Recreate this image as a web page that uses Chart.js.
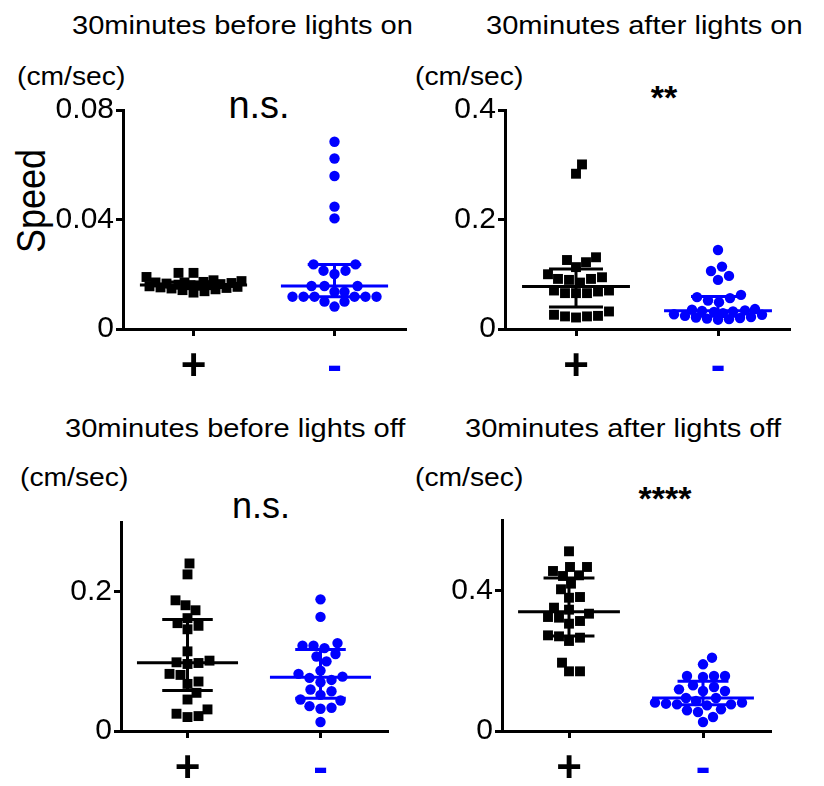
<!DOCTYPE html>
<html>
<head>
<meta charset="utf-8">
<script src="https://cdn.jsdelivr.net/npm/chart.js@4.4.1/dist/chart.umd.min.js"></script>
<style>
  html, body { margin: 0; padding: 0; background: #fff; }
  body { width: 824px; height: 786px; position: relative; overflow: hidden;
         font-family: "Liberation Sans", Arial, sans-serif; color: #000; }
  .box { position: absolute; }
  .txt { position: absolute; white-space: nowrap; line-height: 1; transform-origin: left top; }
  .title { font-size: 26px; transform: scaleX(1.118); }
  .unit { font-size: 25px; transform: scaleX(1.13); }
  .sig { transform: translateX(-50%); }
</style>
</head>
<body>

<div class="txt title" style="left:72px; top:12px;">30minutes before lights on</div>
<div class="txt title" style="left:486px; top:12px;">30minutes after lights on</div>
<div class="txt title" style="left:65px; top:415px;">30minutes before lights off</div>
<div class="txt title" style="left:465px; top:415px;">30minutes after lights off</div>

<div class="txt unit" style="left:17px; top:64px;">(cm/sec)</div>
<div class="txt unit" style="left:415px; top:64px;">(cm/sec)</div>
<div class="txt unit" style="left:20px; top:465px;">(cm/sec)</div>
<div class="txt unit" style="left:415px; top:465px;">(cm/sec)</div>

<div class="txt sig" id="sig0" style="left:259px; top:86px; font-size:38px;"></div>
<div class="txt sig" id="sig1" style="left:664px; top:80px; font-size:34px; font-weight:bold;"></div>
<div class="txt sig" id="sig2" style="left:261px; top:488px; font-size:36px;"></div>
<div class="txt sig" id="sig3" style="left:665px; top:481px; font-size:34px; font-weight:bold;"></div>

<div class="txt" style="left:31px; top:201px; font-size:36px; transform-origin:center; transform: translate(-50%,-50%) rotate(-90deg) scaleY(1.15);">Speed</div>

<div class="box" style="left:0px; top:90px;"><canvas id="c0" width="412" height="300"></canvas></div>
<div class="box" style="left:390px; top:90px;"><canvas id="c1" width="406" height="300"></canvas></div>
<div class="box" style="left:0px; top:500px;"><canvas id="c2" width="394" height="286"></canvas></div>
<div class="box" style="left:390px; top:500px;"><canvas id="c3" width="387" height="286"></canvas></div>

<script>
// ---- data (cm/sec) ----
const groupLabels = ['+', '-'];
const sigLabels = ['n.s.', '**', 'n.s.', '****'];
const yMaxes = [0.08, 0.4, 0.3, 0.6];
const yTicks0 = [0, 0.04, 0.08];
const yTicks1 = [0, 0.2, 0.4];
const yTicks2 = [0, 0.2];
const yTicks3 = [0, 0.4];

// 30 minutes before lights on
const beforeOnPlus = [0.0205, 0.0205, 0.019, 0.0178, 0.0175, 0.0172, 0.017, 0.017, 0.0168, 0.0166, 0.0164, 0.0162,
                      0.016, 0.016, 0.0158, 0.0156, 0.0154, 0.0152, 0.015, 0.0148, 0.0145, 0.0142, 0.0138, 0.0133];
const beforeOnMinus = [0.0684, 0.0623, 0.0559, 0.0447, 0.0404, 0.0236, 0.0236, 0.0213, 0.0213, 0.0201, 0.0157, 0.0157,
                       0.0157, 0.0136, 0.0136, 0.0118, 0.0118, 0.0118, 0.0118, 0.0118, 0.0118, 0.010, 0.010, 0.0082];
// 30 minutes after lights on
const afterOnPlus = [0.3006, 0.2836, 0.131, 0.126, 0.122, 0.113, 0.100, 0.0945, 0.0915, 0.0915, 0.0897, 0.0848,
                     0.0703, 0.0703, 0.0685, 0.0655, 0.0655, 0.0655, 0.032, 0.026, 0.024, 0.023, 0.023, 0.021];
const afterOnMinus = [0.1442, 0.114, 0.106, 0.097, 0.0897, 0.0624, 0.0582, 0.0564, 0.0521, 0.049, 0.0364, 0.0352, 0.034,
                      0.033, 0.032, 0.031, 0.029, 0.027, 0.026, 0.024, 0.022, 0.021, 0.020, 0.019, 0.018, 0.017];
// 30 minutes before lights off
const beforeOffPlus = [0.2405, 0.2248, 0.1876, 0.1805, 0.1733, 0.162, 0.1548, 0.151, 0.146, 0.1143, 0.101, 0.0986,
                       0.0976, 0.0962, 0.082, 0.0805, 0.071, 0.0676, 0.0548, 0.0452, 0.031, 0.0248, 0.0214, 0.02];
const beforeOffMinus = [0.189, 0.1638, 0.1262, 0.1224, 0.1224, 0.119, 0.1105, 0.107, 0.1, 0.0867, 0.082, 0.078,
                        0.0762, 0.0733, 0.07, 0.0595, 0.0571, 0.0519, 0.0452, 0.0438, 0.0357, 0.0333, 0.0319, 0.0129];
// 30 minutes after lights off
const afterOffPlus = [0.511, 0.4664, 0.4664, 0.455, 0.4427, 0.4408, 0.419, 0.403, 0.381, 0.379, 0.3507, 0.345,
                      0.3336, 0.3242, 0.3223, 0.3128, 0.3052, 0.272, 0.2692, 0.2654, 0.256, 0.1943, 0.1697, 0.1697];
const afterOffMinus = [0.2085, 0.1896, 0.1564, 0.1564, 0.1564, 0.1535, 0.13, 0.125, 0.1185, 0.1137, 0.1137, 0.0938,
                       0.0938, 0.0853, 0.0806, 0.0806, 0.0777, 0.0758, 0.0758, 0.073, 0.0616, 0.0588, 0.054, 0.0398, 0.0256];

// ---- styling / layout ----
const BLACK = '#000000';
const BLUE = '#0000ff';
const MED_HALF = 0.38;   // median bar half width (category units)
const CAP_HALF = 0.19;   // IQR cap half width
const GAP = 11;          // wanted px distance between swarm markers
const MAX_HALF = 48;     // swarm never gets wider than this (px each side)

Chart.defaults.font.family = '"Liberation Sans", Arial, sans-serif';
Chart.defaults.color = '#000';

// quartiles the way Prism does it: position (n+1)p
function quantile(vals, p) {
  const s = vals.slice().sort((a, b) => a - b);
  const n = s.length;
  let pos = (n + 1) * p;
  pos = Math.min(Math.max(pos, 1), n);
  const lo = Math.floor(pos), frac = pos - lo;
  if (lo >= n) return s[n - 1];
  return s[lo - 1] + frac * (s[lo] - s[lo - 1]);
}

function groupSets(vals, cat, color, shape, radius) {
  const med = quantile(vals, 0.5), q1 = quantile(vals, 0.25), q3 = quantile(vals, 0.75);
  const seg = pts => ({
    data: pts, showLine: true, borderColor: color, borderWidth: 3,
    pointRadius: 0, order: 0
  });
  return [
    {
      data: vals.map(v => ({ x: cat, y: v })), swarmCenter: cat,
      pointStyle: shape, pointRadius: radius, backgroundColor: color,
      pointBackgroundColor: color, borderWidth: 0, pointBorderWidth: 0, order: 1
    },
    seg([{ x: cat - MED_HALF, y: med }, { x: cat + MED_HALF, y: med }]),
    seg([{ x: cat, y: q1 }, { x: cat, y: q3 }]),
    seg([{ x: cat - CAP_HALF, y: q1 }, { x: cat + CAP_HALF, y: q1 }]),
    seg([{ x: cat - CAP_HALF, y: q3 }, { x: cat + CAP_HALF, y: q3 }])
  ];
}

// spread the points sideways (beeswarm); when the row is full they overlap
function applySwarm(chart) {
  const xs = chart.scales.x, ys = chart.scales.y;
  const unit = xs.getPixelForValue(1) - xs.getPixelForValue(0);
  chart.data.datasets.forEach(ds => {
    if (ds.swarmCenter === undefined) return;
    const items = ds.data.map(p => ({ p, py: ys.getPixelForValue(p.y) }))
      .sort((a, b) => b.py - a.py);
    const placed = [];
    items.forEach(it => {
      let best = 0, bestD = -1;
      for (let k = 0; ; k++) {
        const c = k === 0 ? 0 : (k % 2 ? (k + 1) / 2 : -k / 2);
        if (Math.abs(c) > MAX_HALF) break;
        const d = placed.reduce((m, q) => Math.min(m, Math.hypot(q.x - c, q.y - it.py)), Infinity);
        if (d >= GAP) { best = c; break; }
        if (d > bestD + 0.5) { best = c; bestD = d; }
      }
      placed.push({ x: best, y: it.py });
      it.p.x = ds.swarmCenter + best / unit;
    });
  });
  chart.update('none');
}

function makePanel(id, plus, minus, yMax, yTicks, axisW, axisH, padTop) {
  const chart = new Chart(document.getElementById(id), {
    type: 'scatter',
    data: {
      datasets: [
        ...groupSets(plus, 1, BLACK, 'rect', 7),
        ...groupSets(minus, 2, BLUE, 'circle', 5.2)
      ]
    },
    options: {
      responsive: false,
      animation: false,
      events: [],
      layout: { padding: { top: padTop, right: 4, left: 0, bottom: 0 } },
      plugins: { legend: { display: false }, tooltip: { enabled: false } },
      scales: {
        x: {
          type: 'linear', min: 0.5, max: 2.5,
          afterFit: s => { s.height = axisH; },
          afterBuildTicks: s => { s.ticks = [{ value: 1 }, { value: 2 }]; },
          grid: { drawOnChartArea: false, tickLength: 7, lineWidth: 3, color: BLACK },
          border: { display: true, width: 3, color: BLACK },
          ticks: {
            autoSkip: false, maxRotation: 0, padding: 5,
            font: { size: 44, weight: 'bold' },
            color: ctx => (ctx.index === 0 ? BLACK : BLUE),
            callback: (v, i) => groupLabels[i]
          }
        },
        y: {
          min: 0, max: yMax,
          afterFit: s => { s.width = axisW; },
          afterBuildTicks: s => { s.ticks = yTicks.map(v => ({ value: v })); },
          grid: { drawOnChartArea: false, tickLength: 7, lineWidth: 3, color: BLACK },
          border: { display: true, width: 3, color: BLACK },
          ticks: { padding: 2, font: { size: 30 }, color: BLACK, callback: v => String(v) }
        }
      }
    }
  });
  applySwarm(chart);
  return chart;
}

sigLabels.forEach((s, i) => { document.getElementById('sig' + i).textContent = s; });

makePanel('c0', beforeOnPlus, beforeOnMinus, yMaxes[0], yTicks0, 123, 61, 20);
makePanel('c1', afterOnPlus, afterOnMinus, yMaxes[1], yTicks1, 115, 61, 19);
makePanel('c2', beforeOffPlus, beforeOffMinus, yMaxes[2], yTicks2, 121, 55, 22);
makePanel('c3', afterOffPlus, afterOffMinus, yMaxes[3], yTicks3, 112, 55, 19);
</script>
</body>
</html>
